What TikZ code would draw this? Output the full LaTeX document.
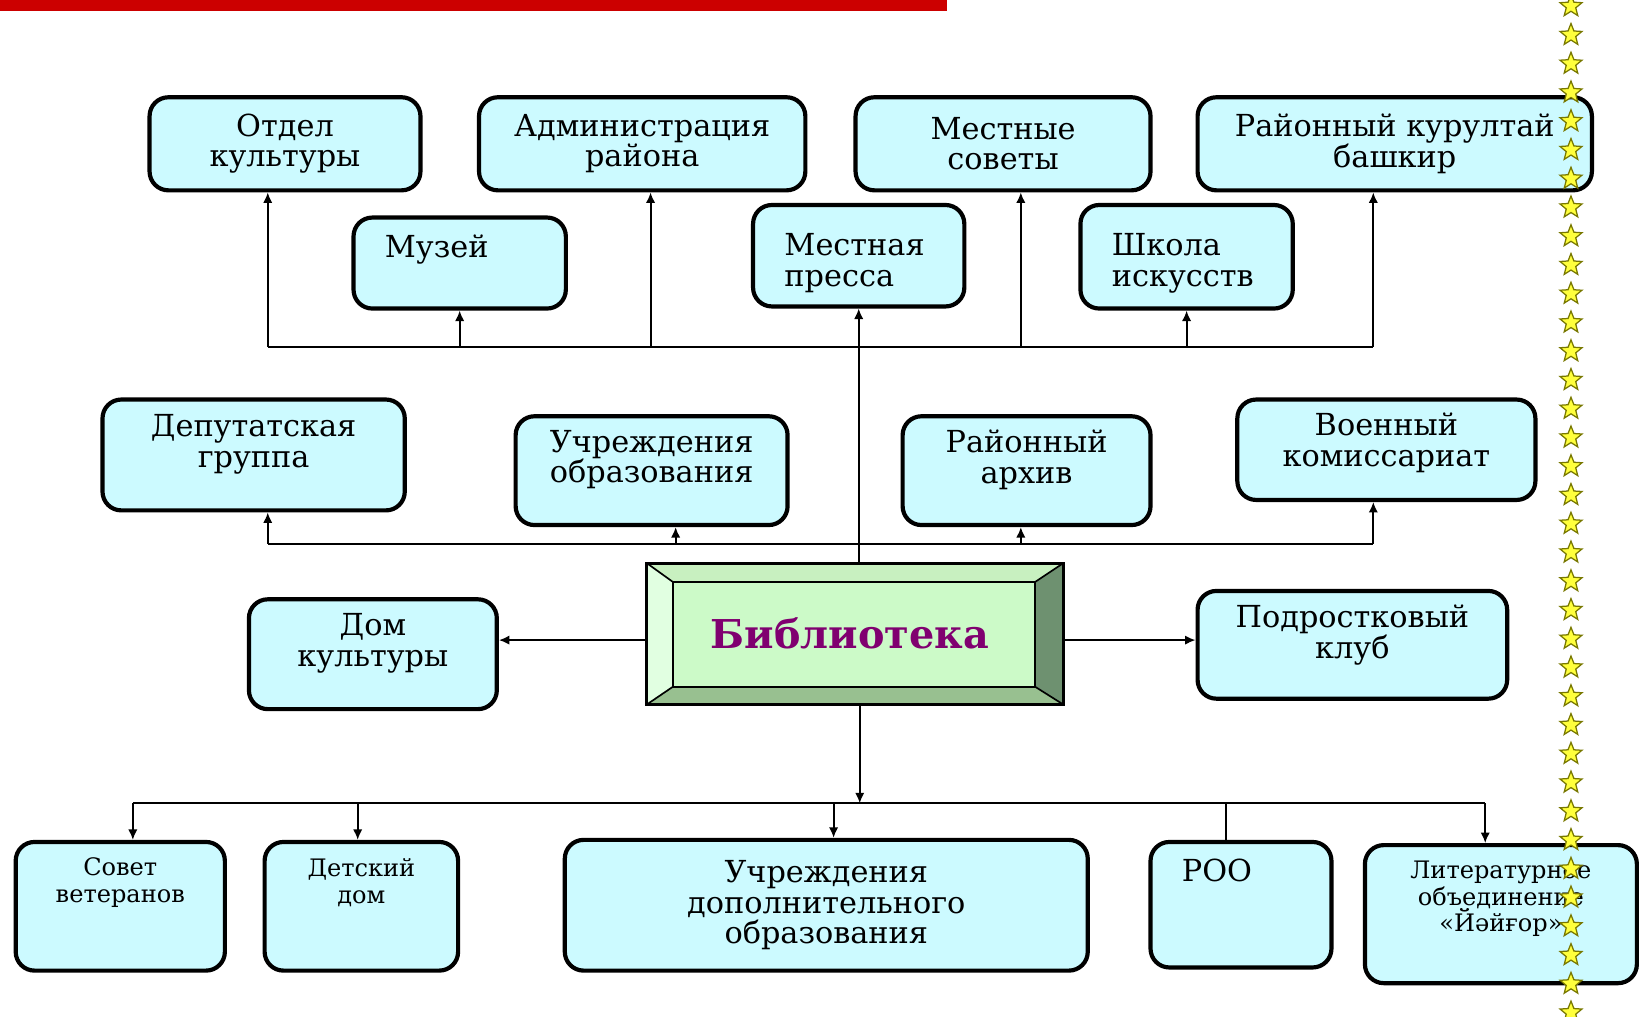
\documentclass[tikz,border=0pt]{standalone}
\usepackage{fontspec}
\setmainfont{DejaVu Serif}
\usetikzlibrary{arrows.meta,shapes.geometric,calc}
\definecolor{boxcyan}{RGB}{204,250,255}
\definecolor{libface}{RGB}{204,250,200}
\definecolor{bevtop}{RGB}{200,240,192}
\definecolor{bevleft}{RGB}{225,255,225}
\definecolor{bevright}{RGB}{110,145,112}
\definecolor{bevbottom}{RGB}{152,192,144}
\definecolor{libpurple}{RGB}{128,0,112}
\definecolor{barred}{RGB}{204,0,0}
\definecolor{starfill}{RGB}{255,255,60}
\definecolor{staredge}{RGB}{120,120,0}
\newcommand\orgfont{\fontsize{14.5}{14.5}\selectfont}
\newcommand\orgsmallfont{\fontsize{11.5}{12.8}\selectfont}
\begin{document}
\begin{tikzpicture}[x=0.5pt,y=-0.5pt,
  org/.style={draw,line width=2pt,rounded corners=9pt,fill=boxcyan,font=\orgfont,align=center,inner sep=2pt},
  orgleft/.style={org,align=left,inner xsep=15pt},
  orgsmall/.style={org,font=\orgsmallfont},
  link/.style={line width=0.9pt},
  arr/.style={link,-{Latex[length=5pt,width=4.5pt]}},
  starmark/.style={star,star points=5,star point ratio=2.3,minimum size=11pt,inner sep=0pt,fill=starfill,draw=staredge,line width=0.6pt}]
  \useasboundingbox (0,0) rectangle (1568,972.3);
  \fill[barred] (0,0) rectangle (905,11);
  \node[org,minimum width=129.5pt,minimum height=44.5pt] (kult) at (272.5,137.5) {Отдел\\культуры};
  \node[org,minimum width=156pt,minimum height=44.5pt] (admin) at (614,137.5) {Администрация\\района};
  \node[org,minimum width=141pt,minimum height=44.5pt] (sovety) at (959,137.5) {Местные\\советы};
  \node[org,minimum width=188.5pt,minimum height=44.5pt] (kurultaj) at (1333.5,137.5) {Районный курултай\\башкир};
  \node[orgleft,text width=71.5pt,minimum height=43.5pt,text depth=16pt] (muzej) at (439.5,251.5) {Музей};
  \node[orgleft,text width=71pt,minimum height=48.5pt,text depth=10.5pt] (pressa) at (821,244.5) {Местная\\пресса};
  \node[orgleft,text width=71.5pt,minimum height=49.5pt,text depth=11.5pt] (shkola) at (1134.5,245.5) {Школа\\искусств};
  \node[org,minimum width=144.5pt,minimum height=53pt,text depth=13.5pt] (deput) at (242.5,435) {Депутатская\\группа};
  \node[org,minimum width=130pt,minimum height=52pt,text depth=13.5pt] (uchobr) at (623,450) {Учреждения\\образования};
  \node[org,minimum width=118.5pt,minimum height=52pt,text depth=13.5pt] (arhiv) at (981.5,450) {Районный\\архив};
  \node[org,minimum width=142.5pt,minimum height=48pt,text depth=9.5pt] (voen) at (1325.5,430) {Военный\\комиссариат};
  \node[draw,line width=1.5pt,fill=libface,minimum width=197.5pt,minimum height=66pt,inner sep=0pt] (lib) at (817.5,606) {};
  \fill[bevtop] (lib.north west) -- (lib.north east) -- ([xshift=-13.5pt,yshift=-9pt]lib.north east) -- ([xshift=12.5pt,yshift=-9pt]lib.north west) -- cycle;
  \fill[bevleft] (lib.north west) -- ([xshift=12.5pt,yshift=-9pt]lib.north west) -- ([xshift=12.5pt,yshift=8.5pt]lib.south west) -- (lib.south west) -- cycle;
  \fill[bevright] (lib.north east) -- (lib.south east) -- ([xshift=-13.5pt,yshift=8.5pt]lib.south east) -- ([xshift=-13.5pt,yshift=-9pt]lib.north east) -- cycle;
  \fill[bevbottom] (lib.south west) -- ([xshift=12.5pt,yshift=8.5pt]lib.south west) -- ([xshift=-13.5pt,yshift=8.5pt]lib.south east) -- (lib.south east) -- cycle;
  \draw[line width=1pt] ([xshift=12.5pt,yshift=-9pt]lib.north west) rectangle ([xshift=-13.5pt,yshift=8.5pt]lib.south east);
  \draw[line width=0.8pt] (lib.north west) -- ([xshift=12.5pt,yshift=-9pt]lib.north west);
  \draw[line width=0.8pt] (lib.north east) -- ([xshift=-13.5pt,yshift=-9pt]lib.north east);
  \draw[line width=0.8pt] (lib.south west) -- ([xshift=12.5pt,yshift=8.5pt]lib.south west);
  \draw[line width=0.8pt] (lib.south east) -- ([xshift=-13.5pt,yshift=8.5pt]lib.south east);
  \draw[line width=1.5pt] (lib.north west) rectangle (lib.south east);
  \node[font=\fontsize{19}{19}\selectfont\bfseries,text=libpurple] (libtext) at ([xshift=-2.5pt]lib.center) {Библиотека};
  \node[org,minimum width=118.5pt,minimum height=52.5pt,text depth=13.5pt] (domkult) at (356.5,625.5) {Дом\\культуры};
  \node[org,minimum width=148pt,minimum height=51.5pt,text depth=12.5pt] (podr) at (1293,616.5) {Подростковый\\клуб};
  \node[orgsmall,minimum width=100pt,minimum height=61.5pt,text depth=25pt] (sovvet) at (115,866.5) {Совет\\ветеранов};
  \node[orgsmall,minimum width=92.5pt,minimum height=61.5pt,text depth=24pt] (detdom) at (345.5,866.5) {Детский\\дом};
  \node[org,minimum width=250pt,minimum height=62.5pt] (uchdop) at (790,865.5) {Учреждения\\дополнительного\\образования};
  \node[orgleft,text width=56.5pt,minimum height=60pt,text depth=33pt] (roo) at (1186.5,865) {РОО};
  \node[orgsmall,minimum width=130pt,minimum height=66pt,text depth=17pt] (litob) at (1435,874) {Литературное\\объединение\\«Йәйғор»};
  \coordinate (busA-w) at (256,332);
  \coordinate (busA-e) at (1313,332);
  \coordinate (busB-w) at (256,520);
  \coordinate (busB-e) at (1313,520);
  \coordinate (busC-w) at (127,768);
  \coordinate (busC-e) at (1420,768);
  \draw[link] (busA-w) -- (busA-e);
  \draw[link] (busB-w) -- (busB-e);
  \draw[link] (busC-w) -- (busC-e);
  \draw[arr] (busA-w) -- (busA-w |- kult.south);
  \draw[arr] (muzej.south |- busA-w) -- (muzej.south);
  \draw[arr] ([xshift=4pt]admin.south |- busA-w) -- ([xshift=4pt]admin.south);
  \draw[arr] ([xshift=8.5pt]sovety.south |- busA-w) -- ([xshift=8.5pt]sovety.south);
  \draw[arr] (shkola.south |- busA-w) -- (shkola.south);
  \draw[arr] (busA-e) -- (busA-e |- kurultaj.south);
  \draw[arr] (pressa.south |- lib.north) -- (pressa.south);
  \draw[arr] (busB-w) -- (busB-w |- deput.south);
  \draw[arr] ([xshift=11.5pt]uchobr.south |- busB-w) -- ([xshift=11.5pt]uchobr.south);
  \draw[arr] ([xshift=-2.75pt]arhiv.south |- busB-w) -- ([xshift=-2.75pt]arhiv.south);
  \draw[arr] (busB-e) -- (busB-e |- voen.south);
  \draw[arr] ([yshift=-3pt]lib.west) -- ([yshift=-3pt]lib.west -| domkult.east);
  \draw[arr] ([yshift=-3pt]lib.east) -- ([yshift=-3pt]lib.east -| podr.west);
  \draw[arr] ([xshift=2.25pt]lib.south) -- ([xshift=2.25pt]lib.south |- busC-w);
  \draw[arr] (busC-w) -- (busC-w |- sovvet.north);
  \draw[arr] ([xshift=-1.75pt]detdom.north |- busC-w) -- ([xshift=-1.75pt]detdom.north);
  \draw[arr] ([xshift=3.5pt]uchdop.north |- busC-w) -- ([xshift=3.5pt]uchdop.north);
  \draw[link] ([xshift=-7.25pt]roo.north |- busC-w) -- ([xshift=-7.25pt]roo.north);
  \draw[arr] (busC-e) -- (busC-e |- litob.north);
  \foreach \i in {0,...,35}
    \node[starmark] (star\i) at (1502,{6+27.49*\i}) {};
\end{tikzpicture}
\end{document}
